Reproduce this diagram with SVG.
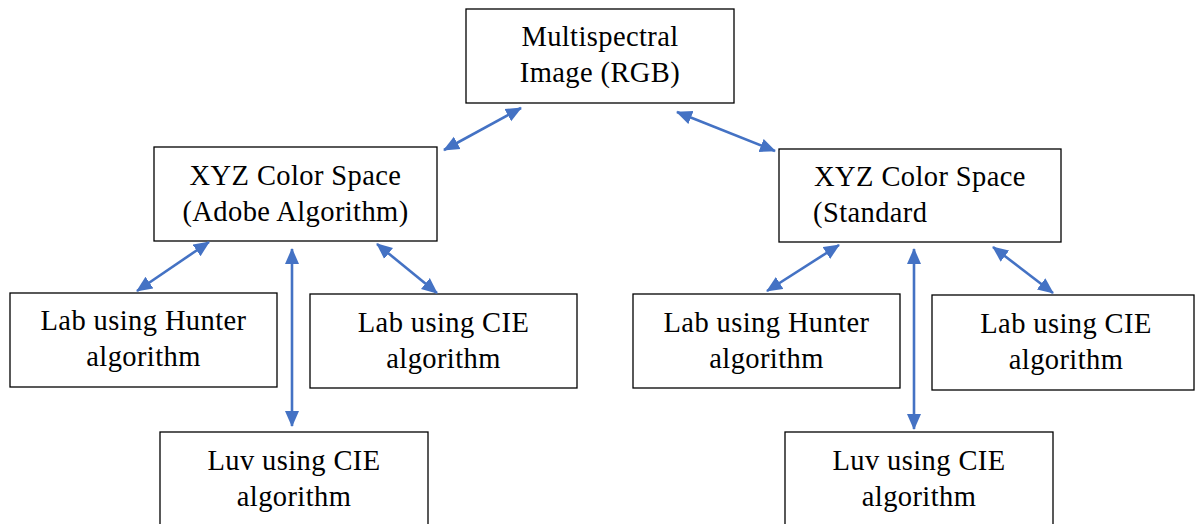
<svg xmlns="http://www.w3.org/2000/svg" width="1195" height="524" viewBox="0 0 1195 524">
<style>
.box{fill:#fff;stroke:#000;stroke-width:1.3}
.t{font-family:"Liberation Serif","Times New Roman",serif;font-size:28.5px;letter-spacing:0.4px;fill:#000;text-anchor:middle}
.c{stroke:#4472C4;stroke-width:2.6;fill:none;marker-start:url(#ah);marker-end:url(#ah)}
</style>
<defs>
<marker id="ah" markerUnits="userSpaceOnUse" markerWidth="17" markerHeight="15" viewBox="0 0 17 15" refX="15" refY="7.5" orient="auto-start-reverse">
<path d="M0,0.5 L16,7.5 L0,14.5 z" fill="#4472C4"/>
</marker>
</defs>
<rect width="1195" height="524" fill="#fff"/>
<g id="n-top"><rect class="box" x="466" y="9" width="268" height="94"/><text class="t" x="600" y="46">Multispectral</text><text class="t" x="600" y="82">Image (RGB)</text></g>
<g id="n-xyz-adobe"><rect class="box" x="154" y="147" width="283" height="94"/><text class="t" x="295.5" y="185">XYZ Color Space</text><text class="t" x="295.5" y="221">(Adobe Algorithm)</text></g>
<g id="n-xyz-std"><rect class="box" x="779" y="149" width="282" height="93"/><text class="t" x="920" y="186">XYZ Color Space</text><text class="t" x="813" y="222" style="text-anchor:start">(Standard</text></g>
<g id="n-lab-hunter-l"><rect class="box" x="10" y="293" width="267" height="94"/><text class="t" x="143.5" y="330">Lab using Hunter</text><text class="t" x="143.5" y="366">algorithm</text></g>
<g id="n-lab-cie-l"><rect class="box" x="310" y="294" width="267" height="94"/><text class="t" x="443.5" y="332">Lab using CIE</text><text class="t" x="443.5" y="368">algorithm</text></g>
<g id="n-luv-l"><rect class="box" x="160" y="432" width="268" height="110"/><text class="t" x="294" y="470">Luv using CIE</text><text class="t" x="294" y="506">algorithm</text></g>
<g id="n-lab-hunter-r"><rect class="box" x="633" y="294" width="267" height="94"/><text class="t" x="766.5" y="332">Lab using Hunter</text><text class="t" x="766.5" y="368">algorithm</text></g>
<g id="n-lab-cie-r"><rect class="box" x="932" y="295" width="262" height="95"/><text class="t" x="1066" y="333">Lab using CIE</text><text class="t" x="1066" y="369">algorithm</text></g>
<g id="n-luv-r"><rect class="box" x="785" y="432" width="268" height="110"/><text class="t" x="919" y="470">Luv using CIE</text><text class="t" x="919" y="506">algorithm</text></g>
<g id="connectors">
<line class="c" x1="444" y1="150" x2="521" y2="108"/>
<line class="c" x1="677" y1="112" x2="775" y2="151"/>
<line class="c" x1="137" y1="291" x2="209" y2="242"/>
<line class="c" x1="292" y1="249" x2="292" y2="426"/>
<line class="c" x1="377" y1="244" x2="437" y2="293"/>
<line class="c" x1="767" y1="291" x2="839" y2="245"/>
<line class="c" x1="914" y1="249" x2="914" y2="429"/>
<line class="c" x1="993" y1="247" x2="1053" y2="293"/>
</g>
</svg>
